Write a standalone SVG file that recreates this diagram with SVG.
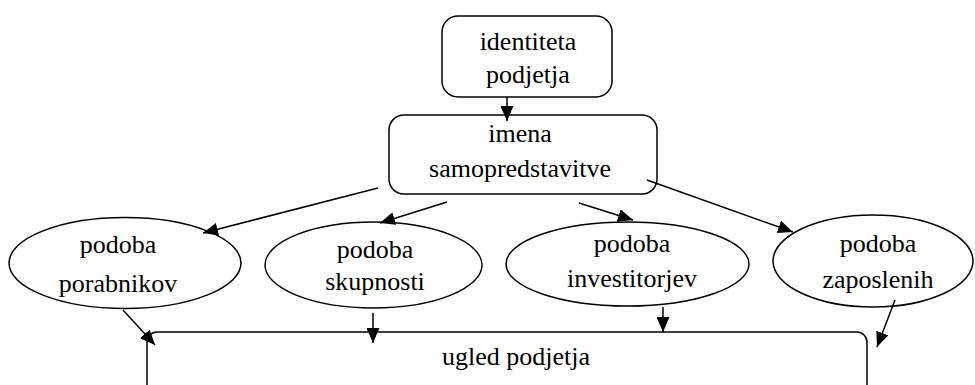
<svg xmlns="http://www.w3.org/2000/svg" width="975" height="385" viewBox="0 0 975 385">
<defs>
<marker id="a" viewBox="0 0 15 13" refX="15" refY="6.5" markerWidth="15" markerHeight="13" markerUnits="userSpaceOnUse" orient="auto">
<path d="M0,0 L15,6.5 L0,13 Z" fill="#000"/>
</marker>
</defs>
<rect width="975" height="385" fill="#fff"/>
<g id="identiteta">
<rect x="442" y="16" width="170" height="81" rx="16" fill="#fff" stroke="#000" stroke-width="1.5"/>
<text x="528" y="50" font-family="Times New Roman" font-size="26" text-anchor="middle">identiteta</text>
<text x="528" y="83" font-family="Times New Roman" font-size="26" text-anchor="middle">podjetja</text>
</g>
<g id="imena">
<rect x="389" y="115" width="268" height="79" rx="15" fill="#fff" stroke="#000" stroke-width="1.5"/>
<text x="520" y="142" font-family="Times New Roman" font-size="26" text-anchor="middle">imena</text>
<text x="520" y="177" font-family="Times New Roman" font-size="26" text-anchor="middle">samopredstavitve</text>
</g>
<g id="porabnikov">
<ellipse cx="125" cy="263" rx="116" ry="45.5" fill="#fff" stroke="#000" stroke-width="1.5"/>
<text x="118" y="253" font-family="Times New Roman" font-size="26" text-anchor="middle">podoba</text>
<text x="118" y="292" font-family="Times New Roman" font-size="26" text-anchor="middle">porabnikov</text>
</g>
<g id="skupnosti">
<ellipse cx="373.5" cy="265" rx="108.5" ry="43" fill="#fff" stroke="#000" stroke-width="1.5"/>
<text x="375" y="258" font-family="Times New Roman" font-size="26" text-anchor="middle">podoba</text>
<text x="375" y="290" font-family="Times New Roman" font-size="26" text-anchor="middle">skupnosti</text>
</g>
<g id="investitorjev">
<ellipse cx="627.5" cy="264" rx="121.5" ry="42" fill="#fff" stroke="#000" stroke-width="1.5"/>
<text x="632" y="252" font-family="Times New Roman" font-size="26" text-anchor="middle">podoba</text>
<text x="632" y="287" font-family="Times New Roman" font-size="26" text-anchor="middle">investitorjev</text>
</g>
<g id="zaposlenih">
<ellipse cx="873" cy="261" rx="100" ry="46" fill="#fff" stroke="#000" stroke-width="1.5"/>
<text x="878" y="252" font-family="Times New Roman" font-size="26" text-anchor="middle">podoba</text>
<text x="878" y="288" font-family="Times New Roman" font-size="26" text-anchor="middle">zaposlenih</text>
</g>
<g id="ugled">
<rect x="147" y="332" width="720" height="80" rx="10" fill="#fff" stroke="#000" stroke-width="1.5"/>
<text x="516" y="365" font-family="Times New Roman" font-size="26" text-anchor="middle">ugled podjetja</text>
</g>
<g id="connectors" stroke="#000" stroke-width="1.5" marker-end="url(#a)">
<line x1="507" y1="97" x2="507" y2="121"/>
<line x1="378" y1="188" x2="203" y2="233"/>
<line x1="447" y1="202" x2="380" y2="223"/>
<line x1="579" y1="203" x2="633" y2="220"/>
<line x1="647" y1="180" x2="793" y2="232"/>
<line x1="123" y1="310" x2="155" y2="345"/>
<line x1="373" y1="313" x2="373" y2="343"/>
<line x1="663" y1="307" x2="663" y2="332"/>
<line x1="895" y1="300" x2="877" y2="347"/>
</g>
</svg>
